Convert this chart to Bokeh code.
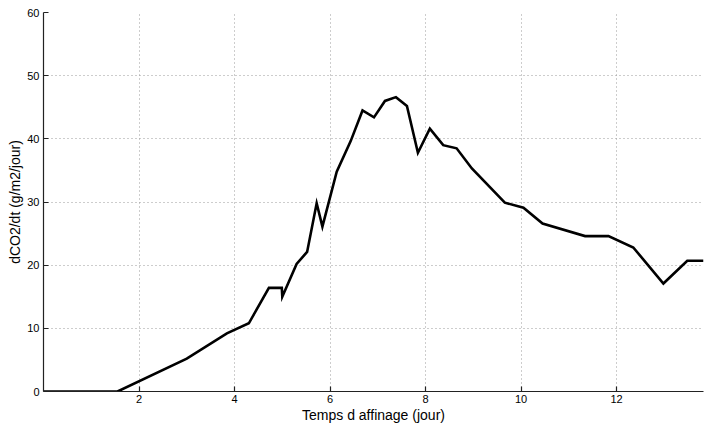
from bokeh.plotting import figure
from bokeh.models import Range1d, FixedTicker
from bokeh.embed import file_html
from bokeh.resources import INLINE

# Data
days = [0.0, 1.55, 3.0, 3.84, 4.3, 4.72, 4.99, 5.0, 5.30, 5.52, 5.72, 5.84, 6.14,
        6.43, 6.68, 6.92, 7.15, 7.38, 7.61, 7.84, 8.09, 8.37, 8.65, 8.97, 9.66,
        10.05, 10.45, 11.34, 11.83, 12.35, 12.98, 13.48, 13.82]
rate = [0.0, 0.0, 5.2, 9.2, 10.8, 16.4, 16.4, 15.0, 20.2, 22.1, 29.8, 26.1, 34.8,
        39.6, 44.5, 43.4, 46.0, 46.6, 45.2, 37.8, 41.6, 39.0, 38.5, 35.3, 29.9,
        29.1, 26.6, 24.6, 24.6, 22.8, 17.1, 20.7, 20.7]
x_ticks = [2, 4, 6, 8, 10, 12]
y_ticks = [0, 10, 20, 30, 40, 50, 60]

p = figure(width=704, height=425, output_backend="svg", toolbar_location=None,
           x_range=Range1d(0, 13.82), y_range=Range1d(0, 60),
           min_border_left=43, min_border_right=1, min_border_top=12,
           min_border_bottom=34)
p.outline_line_color = None
p.background_fill_color = "white"

p.line(days, rate, line_color="black", line_width=2.6, line_join="miter")

font = "Liberation Sans"
p.xaxis.ticker = FixedTicker(ticks=x_ticks)
p.yaxis.ticker = FixedTicker(ticks=y_ticks)
for ax in (p.xaxis[0], p.yaxis[0]):
    ax.major_tick_in = 5
    ax.major_tick_out = 0
    ax.minor_tick_in = 0
    ax.minor_tick_out = 0
    ax.major_label_text_font = font
    ax.major_label_text_font_size = "11px"
    ax.major_label_text_color = "black"
    ax.axis_label_text_font = font
    ax.axis_label_text_font_size = "14px"
    ax.axis_label_text_font_style = "normal"
    ax.axis_label_text_color = "black"
    ax.axis_line_color = "#222222"
    ax.axis_line_width = 1.2
    ax.major_tick_line_color = "#222222"
    ax.major_tick_line_width = 1.2

p.xaxis.major_label_standoff = 3
p.yaxis.major_label_standoff = 4
p.xaxis.axis_label = "Temps d affinage (jour)"
p.yaxis.axis_label = "dCO2/dt (g/m2/jour)"
p.xaxis.axis_label_standoff = 1
p.yaxis.axis_label_standoff = 1

p.xgrid.ticker = FixedTicker(ticks=x_ticks)
p.ygrid.ticker = FixedTicker(ticks=y_ticks)
for g in (p.xgrid[0], p.ygrid[0]):
    g.grid_line_color = "#9a9a9a"
    g.grid_line_dash = "1 3"
    g.grid_line_width = 1

open("out.html", "w").write(file_html(p, INLINE))
